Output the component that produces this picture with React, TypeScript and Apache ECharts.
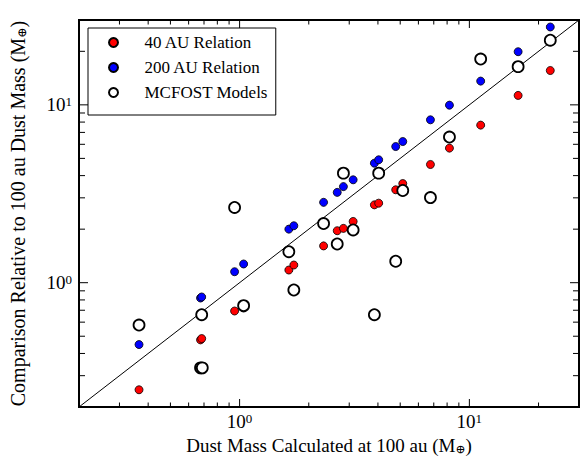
import React, { useEffect, useRef } from "react";
import * as echarts from "echarts";

const FONT = "Liberation Serif";

// Objects: dust mass calculated at 100 au (x)
const objX = [0.365, 0.676, 0.684, 0.951, 1.041, 1.638, 1.722, 2.32, 2.66, 2.83, 3.12, 3.86, 4.03, 4.78, 5.13, 6.77, 8.19, 11.2, 16.3, 22.5];
// 40 AU relation (red)
const rel40 = [0.25, 0.477, 0.485, 0.693, 0.72, 1.178, 1.257, 1.61, 1.96, 2.02, 2.21, 2.74, 2.8, 3.33, 3.61, 4.62, 5.71, 7.69, 11.3, 15.6];
// 200 AU relation (blue)
const rel200 = [0.449, 0.82, 0.831, 1.153, 1.274, 2.0, 2.09, 2.83, 3.22, 3.47, 3.79, 4.7, 4.91, 5.83, 6.22, 8.24, 9.96, 13.6, 19.9, 27.4];
// MCFOST models (open circles)
const modelX = [0.365, 0.684, 0.676, 0.688, 0.951, 1.041, 1.638, 1.722, 2.32, 2.66, 2.83, 3.12, 3.86, 4.03, 4.78, 5.13, 6.77, 8.19, 11.2, 16.3, 22.5];
const modelY = [0.578, 0.661, 0.332, 0.332, 2.65, 0.743, 1.494, 0.91, 2.15, 1.65, 4.13, 1.98, 0.661, 4.13, 1.32, 3.3, 3.01, 6.59, 18.1, 16.4, 23.1];

// Axis range and tick values
const axisMin = 0.2;
const axisMax = 30;
const majorTicks = [1, 10];
const minorTicks = [0.2, 0.3, 0.4, 0.5, 0.6, 0.7, 0.8, 0.9, 2, 3, 4, 5, 6, 7, 8, 9, 20, 30];
const oneToOne = [0.2, 30];

const seriesNames = ["40 AU Relation", "200 AU Relation", "MCFOST Models"];

export default function App() {
  const ref = useRef<HTMLDivElement>(null);
  useEffect(() => {
    if (!ref.current) return;
    const chart = echarts.init(ref.current, undefined, { renderer: "svg" });

    const tickData = [
      ...majorTicks.map((v) => [v, 1]),
      ...minorTicks.map((v) => [v, 0]),
    ];

    const labelFormatter = (v: number) => {
      const l = Math.log10(v);
      const e = Math.round(l);
      if (Math.abs(l - e) > 1e-6) return "";
      return `{b|10}{s|${e}}`;
    };
    const labelRich = {
      b: { fontSize: 19, fontFamily: FONT, color: "#000" },
      s: { fontSize: 13, fontFamily: FONT, color: "#000", verticalAlign: "top", lineHeight: 12 },
    };

    const axisCommon = {
      type: "log",
      logBase: 10,
      min: axisMin,
      max: axisMax,
      axisLine: { show: false },
      axisTick: { show: false },
      splitLine: { show: false },
      minorTick: { show: false },
      minorSplitLine: { show: false },
    };

    const tickSeries = (dir: "x" | "y") => ({
      type: "custom",
      silent: true,
      z: 10,
      data: tickData.map(([v, m]) => (dir === "x" ? [v, 1, m] : [1, v, m])),
      renderItem: (params: any, api: any) => {
        const cs = params.coordSys;
        const v = dir === "x" ? api.value(0) : api.value(1);
        const major = api.value(2) === 1;
        const style = { stroke: "#000", lineWidth: 1 };
        if (dir === "x") {
          const px = api.coord([v, 1])[0];
          const len = major ? 8 : 4.5;
          return {
            type: "group",
            children: [
              { type: "line", shape: { x1: px, y1: cs.y + cs.height, x2: px, y2: cs.y + cs.height - len }, style },
              { type: "line", shape: { x1: px, y1: cs.y, x2: px, y2: cs.y + len }, style },
            ],
          };
        }
        const py = api.coord([1, v])[1];
        const len = major ? 9 : 6;
        return {
          type: "group",
          children: [
            { type: "line", shape: { x1: cs.x, y1: py, x2: cs.x + len, y2: py }, style },
            { type: "line", shape: { x1: cs.x + cs.width, y1: py, x2: cs.x + cs.width - len, y2: py }, style },
          ],
        };
      },
    });

    const nameRichX = {
      n: { fontSize: 19, fontFamily: FONT, color: "#000" },
      sub: { fontSize: 12, fontFamily: "DejaVu Serif", color: "#000", verticalAlign: "bottom", lineHeight: 14 },
    };
    const nameRichY = {
      n: { fontSize: 20, fontFamily: FONT, color: "#000" },
      sub: { fontSize: 12.5, fontFamily: "DejaVu Serif", color: "#000", verticalAlign: "bottom", lineHeight: 14 },
    };

    chart.setOption({
      animation: false,
      backgroundColor: "#fff",
      textStyle: { fontFamily: FONT },
      grid: {
        left: 78,
        right: 8,
        top: 20,
        bottom: 54,
        show: true,
        borderColor: "#000",
        borderWidth: 2,
        backgroundColor: "transparent",
      },
      legend: {
        data: seriesNames,
        orient: "vertical",
        left: 88,
        top: 28,
        itemWidth: 52,
        itemHeight: 9,
        itemGap: 8,
        padding: [6, 8, 14, 20],
        borderColor: "#000",
        borderWidth: 1,
        borderRadius: 0,
        backgroundColor: "#fff",
        icon: "circle",
        formatter: "{t|{name}}",
        textStyle: {
          fontSize: 17,
          fontFamily: FONT,
          color: "#000",
          rich: { t: { fontSize: 17, fontFamily: FONT, color: "#000" } },
        },
      },
      xAxis: {
        ...axisCommon,
        name: "{n|Dust Mass Calculated at 100 au (M}{sub|⊕}{n|)}",
        nameLocation: "middle",
        nameGap: 24,
        nameTextStyle: { rich: nameRichX },
        axisLabel: {
          formatter: labelFormatter,
          rich: labelRich,
          margin: 5,
          showMinLabel: false,
          showMaxLabel: false,
        },
      },
      yAxis: {
        ...axisCommon,
        name: "{n|Comparison Relative to 100 au Dust Mass (M}{sub|⊕}{n|)}",
        nameLocation: "middle",
        nameGap: 51,
        nameRotate: 90,
        nameTextStyle: { rich: nameRichY },
        axisLabel: {
          formatter: labelFormatter,
          rich: labelRich,
          margin: 7,
          showMinLabel: false,
          showMaxLabel: false,
        },
      },
      series: [
        {
          type: "line",
          data: oneToOne.map((v) => [v, v]),
          showSymbol: false,
          symbol: "none",
          lineStyle: { color: "#000", width: 1 },
          silent: true,
          z: 1,
        },
        {
          name: seriesNames[0],
          type: "scatter",
          data: objX.map((x, i) => [x, rel40[i]]),
          symbolSize: 8,
          itemStyle: { color: "#ff0000", borderColor: "#000", borderWidth: 0.8, opacity: 1 },
          z: 2,
        },
        {
          name: seriesNames[1],
          type: "scatter",
          data: objX.map((x, i) => [x, rel200[i]]),
          symbolSize: 8,
          itemStyle: { color: "#0000ff", borderColor: "#000", borderWidth: 0.8, opacity: 1 },
          z: 3,
        },
        {
          name: seriesNames[2],
          type: "scatter",
          data: modelX.map((x, i) => [x, modelY[i]]),
          symbolSize: 11,
          itemStyle: { color: "#fff", borderColor: "#000", borderWidth: 1.8, opacity: 1 },
          z: 4,
        },
        tickSeries("x"),
        tickSeries("y"),
      ],
    });
    return () => chart.dispose();
  }, []);
  return <div ref={ref} style={{ width: 587, height: 461, position: "absolute", left: 0, top: 0 }} />;
}
